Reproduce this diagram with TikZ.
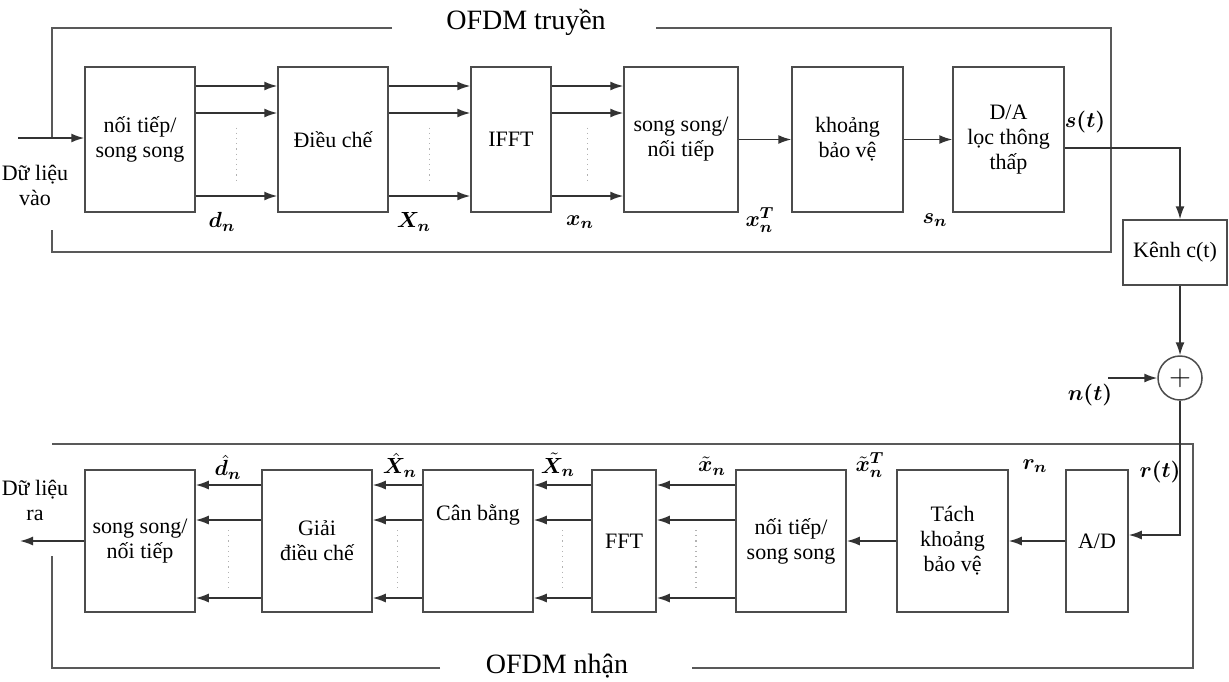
\documentclass[tikz,border=0pt]{standalone}
\usepackage{amsmath,bm}
\usepackage{fontspec}
\setmainfont{Liberation Serif}
\usetikzlibrary{arrows.meta,calc,positioning}
\tikzset{
  blk/.style={rectangle,draw=black!70,line width=0.75pt,align=center,font=\fontsize{11}{12.5}\selectfont,inner sep=2pt},
  topblk/.style={blk,minimum height=72.5pt},
  botblk/.style={blk,minimum height=71pt},
  arr/.style={-{Latex[length=6.5pt,width=4.5pt]},line width=0.75pt,color=black!80},
  frame/.style={line width=0.75pt,color=black!65},
  dots/.style={dotted,line width=0.6pt,color=black!30},
  lbl/.style={font=\fontsize{11}{12}\selectfont,inner sep=0pt},
  framelbl/.style={font=\fontsize{14}{16}\selectfont,inner sep=0pt}
}
\begin{document}
\begin{tikzpicture}[x=0.5pt,y=-0.5pt]
  \useasboundingbox (0,0) rectangle (1229,681);

  % transmitter
  \node[topblk,minimum width=55pt] (sp) at (140,139.5) {nối tiếp/\\song song};
  \node[topblk,minimum width=55pt] (mod) at (333,139.5) {Điều chế};
  \node[topblk,minimum width=40pt] (ifft) at (511,139.5) {IFFT};
  \node[topblk,minimum width=57pt] (ps) at (681,139.5) {song song/\\nối tiếp};
  \node[topblk,minimum width=55.5pt] (gi) at (847.5,139.5) {khoảng\\bảo vệ};
  \node[topblk,minimum width=55.5pt] (da) at (1008.5,139.5) {D/A\\lọc thông\\thấp};

  % channel
  \node[blk,minimum width=52pt,minimum height=32.5pt] (ch) at (1175,252.5) {Kênh c(t)};
  \node[circle,draw=black!70,line width=0.75pt,minimum size=22pt,inner sep=0pt,font=\Large] (sum) at (1180,378) {$+$};

  % receiver
  \node[botblk,minimum width=55pt] (ps2) at (140,541) {song song/\\nối tiếp};
  \node[botblk,minimum width=55pt] (dem) at (317,541) {Giải\\điều chế};
  \node[botblk,minimum width=55pt] (eq) at (478,541) {Cân bằng\\[16pt]};
  \node[botblk,minimum width=32pt] (fft) at (624,541) {FFT};
  \node[botblk,minimum width=55pt] (sp2) at (791,541) {nối tiếp/\\song song};
  \node[botblk,minimum width=55.5pt] (rg) at (952.5,541) {Tách\\khoảng\\bảo vệ};
  \node[botblk,minimum width=31pt] (ad) at (1097,541) {A/D};

  % frames
  \draw[frame] (392,28) -- (52,28) -- (52,138);
  \draw[frame] (656,28) -| (1111,252) -- (52,252) -- (52,230);
  \node[framelbl] (tx) at (526,22) {OFDM truyền};
  \draw[frame] (52,444) -- (1193,444) -- (1193,668) -- (692,668);
  \draw[frame] (440,668) -- (52,668) -- (52,556);
  \node[framelbl] (rx) at (557,666) {OFDM nhận};

  % parallel lines
  \foreach \a/\b in {sp/mod,mod/ifft,ifft/ps}{
    \foreach \y in {86,113,196}
      \draw[arr] (\a.east |- 0,\y) -- (\b.west |- 0,\y);
    \draw[dots] ($(\a.east)!.5!(\b.west)+(0,-12)$) -- ($(\a.east)!.5!(\b.west)+(0,42)$);
  }
  \foreach \a/\b in {sp2/fft,fft/eq,eq/dem,dem/ps2}{
    \foreach \y in {485,520,598}
      \draw[arr] (\a.west |- 0,\y) -- (\b.east |- 0,\y);
    \draw[dots] ($(\a.west)!.5!(\b.east)+(0,-11)$) -- ($(\a.west)!.5!(\b.east)+(0,49)$);
  }

  % serial links
  \coordinate (in) at (18,138);
  \coordinate (out) at (20,541);
  \coordinate (nin) at (1108,378);
  \draw[arr] (in) -- (sp.west |- in);
  \draw[arr] (ps) -- (gi);
  \draw[arr] (gi) -- (da);
  \draw[arr] (da.east |- 0,148) -| (sum |- ch.north);
  \draw[arr] (ch.south -| sum) -- (sum);
  \draw[arr] (nin) -- (sum.west);
  \draw[arr] (sum.south) |- ([yshift=3pt]ad.east);
  \draw[arr] (ad) -- (rg);
  \draw[arr] (rg) -- (sp2);
  \draw[arr] (ps2.west) -- (out);

  \node[blk,draw=none,inner sep=0pt] (din) at (35,185) {Dữ liệu\\vào};
  \node[blk,draw=none,inner sep=0pt] (dout) at (35,500) {Dữ liệu\\ra};

  % signal labels
  \node[lbl] (l1) at (222,222) {$\bm{d}_{\bm n}$};
  \node[lbl] (l2) at (414,222) {$\bm{X}_{\bm n}$};
  \node[lbl] (l3) at (580,222) {$\bm{x}_{\bm n}$};
  \node[lbl] (l4) at (760,220) {$\bm{x}_{\bm n}^{\bm T}$};
  \node[lbl] (l5) at (935,220) {$\bm{s}_{\bm n}$};
  \node[lbl] (l6) at (1085,122) {$\bm{s(t)}$};
  \node[lbl] (l7) at (1090,395) {$\bm{n(t)}$};
  \node[lbl] (l8) at (1160,472) {$\bm{r(t)}$};
  \node[lbl] (l9) at (228,467) {$\hat{\bm d}_{\bm n}$};
  \node[lbl] (l10) at (400,465) {$\hat{\bm X}_{\bm n}$};
  \node[lbl] (l11) at (558,465) {$\tilde{\bm X}_{\bm n}$};
  \node[lbl] (l12) at (712,466) {$\tilde{\bm x}_{\bm n}$};
  \node[lbl] (l13) at (870,465) {$\tilde{\bm x}_{\bm n}^{\bm T}$};
  \node[lbl] (l14) at (1035,466) {$\bm{r}_{\bm n}$};
\end{tikzpicture}
\end{document}
